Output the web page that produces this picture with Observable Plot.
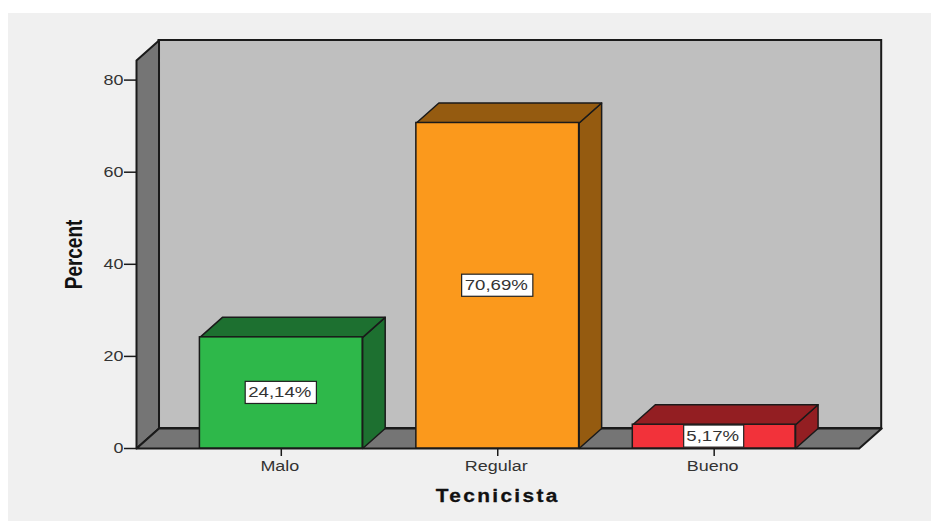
<!DOCTYPE html>
<html>
<head>
<meta charset="utf-8">
<script src="https://cdn.jsdelivr.net/npm/d3@7"></script>
<script src="https://cdn.jsdelivr.net/npm/@observablehq/plot@0.6"></script>
<style>
html,body{margin:0;padding:0;background:#fff}
body{background:linear-gradient(#f0f0f0,#f0f0f0) no-repeat 8px 13px/923px 508px,#fff;width:931px;height:522px;overflow:hidden}
svg{display:block;background:transparent!important}
.xtitle text{letter-spacing:2px}
</style>
</head>
<body>
<div id="chart"></div>
<script>
const categories = ["Malo", "Regular", "Bueno"];
const percents = [24.14, 70.69, 5.17];
const valueLabels = ["24,14%", "70,69%", "5,17%"];
const yTicks = [0, 20, 40, 60, 80];
const frontColors = ["#2eb84a", "#fb991c", "#f2323a"];
const sideColors = ["#1d7030", "#955b10", "#931e22"];

// Chart-space layout, in scale units
const xMin = -0.669, xFront = 2.67, xDepth = 0.104;
const yDepth = 4.34, yMax = 88.6;
const barHalf = 0.376;

const ink = "#1a1a1a";
const sideKey = c => c + " side";

const sides = categories.flatMap((c, i) => {
  const x1 = i - barHalf, x2 = i + barHalf, v = percents[i];
  return [
    [[x2, 0], [x2 + xDepth, yDepth], [x2 + xDepth, v + yDepth], [x2, v], [x2, 0]],
    [[x1, v], [x2, v], [x2 + xDepth, v + yDepth], [x1 + xDepth, v + yDepth], [x1, v]]
  ].flatMap((poly, k) => poly.map(([x, y]) => ({x, y, key: sideKey(c), id: c + k})));
});
const toPts = (poly, id) => poly.map(([x, y]) => ({x, y, id}));
const floorPoly = toPts([[xMin, 0], [xFront, 0], [xFront + xDepth, yDepth], [xMin + xDepth, yDepth], [xMin, 0]], "floor");
const wallPoly = toPts([[xMin, 0], [xMin, yMax - yDepth], [xMin + xDepth, yMax], [xMin + xDepth, yDepth], [xMin, 0]], "wall");

const boxes = categories.map((c, i) => ({
  c, label: valueLabels[i], i, v: percents[i],
  half: (valueLabels[i].length * 11.2 + 4) / 2 / 216.4
}));

const plot = Plot.plot({
  width: 931,
  height: 522,
  marginLeft: 136,
  marginRight: 49.8,
  marginTop: 40,
  marginBottom: 74,
  style: {fontFamily: "'Liberation Sans', Arial, sans-serif", fontSize: "14px", color: "#333", background: "transparent"},
  x: {domain: [xMin, xFront + xDepth]},
  y: {domain: [0, yMax]},
  color: {
    domain: [...categories, ...categories.map(sideKey)],
    range: [...frontColors, ...sideColors]
  },
  marks: [
    Plot.rect([0], {x1: xMin + xDepth, x2: xFront + xDepth, y1: yDepth, y2: yMax, fill: "#bfbfbf", stroke: ink, strokeWidth: 2}),
    Plot.line(wallPoly, {x: "x", y: "y", z: "id", fill: "#757575", stroke: ink, strokeWidth: 2}),
    Plot.line(floorPoly, {x: "x", y: "y", z: "id", fill: "#757575", stroke: ink, strokeWidth: 2}),
    Plot.line(sides, {x: "x", y: "y", z: "id", fill: "key", stroke: ink, strokeWidth: 1.5}),
    Plot.rect(boxes, {x1: d => d.i - barHalf, x2: d => d.i + barHalf, y1: 0, y2: "v", fill: "c", stroke: ink, strokeWidth: 1.5}),
    Plot.rect(boxes, {x1: d => d.i - d.half, x2: d => d.i + d.half, y1: d => d.v / 2 - 2.4, y2: d => d.v / 2 + 2.4, fill: "white", stroke: "#222", strokeWidth: 1.2}),
    Plot.text(boxes, {x: "i", y: d => d.v / 2, text: "label", dx: -1.5, fontSize: 14, fill: "#333", className: "vlabel"}),
    Plot.axisY({ticks: yTicks, tickSize: 12, tickPadding: 1, label: null, strokeWidth: 1.5, stroke: ink, fill: "#333", fontSize: 14, className: "stretch"}),
    Plot.axisX({ticks: [0, 1, 2], tickFormat: i => categories[i], tickSize: 8, tickPadding: 5, label: null, strokeWidth: 1.5, stroke: ink, fill: "#333", fontSize: 14, className: "stretch"}),
    Plot.text(["Tecnicista"], {x: 1, frameAnchor: "bottom", dy: 53, fontSize: 18, fontWeight: "bold", fill: "#111", stroke: "#111", strokeWidth: 0.3, className: "xtitle"}),
    Plot.text(["Percent"], {y: (yMax - yDepth) / 2, frameAnchor: "left", textAnchor: "middle", dx: -62, rotate: -90, fontSize: 24, fontWeight: "bold", fill: "#111", className: "ytitle"})
  ]
});
document.getElementById("chart").append(plot);

const stretch = (sel, k) => plot.querySelectorAll(sel).forEach(t => {
  if (!t.textContent) return;
  t.setAttribute("textLength", t.getComputedTextLength() * k);
  t.setAttribute("lengthAdjust", "spacingAndGlyphs");
});
stretch(".stretch text", 1.28);
plot.querySelectorAll("[aria-label='x-axis tick label'] text").forEach(t => t.setAttribute("dx", -1.5));
stretch(".vlabel text", 1.33);
stretch("text.vlabel", 1.33);
stretch(".xtitle text", 1.16);
stretch(".ytitle text", 0.79);
</script>
</body>
</html>
